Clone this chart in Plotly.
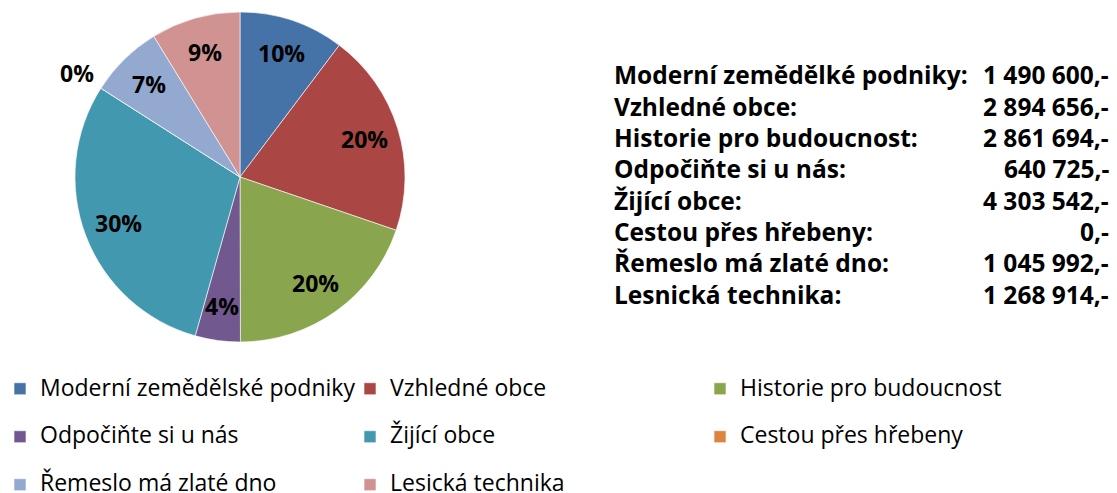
import math
import plotly.graph_objects as go

# data
legend_labels = ["Moderní zemědělské podniky", "Vzhledné obce", "Historie pro budoucnost",
                 "Odpočiňte si u nás", "Žijící obce", "Cestou přes hřebeny",
                 "Řemeslo má zlaté dno", "Lesická technika"]
table_names = ["Moderní zemědělké podniky:", "Vzhledné obce:", "Historie pro budoucnost:",
               "Odpočiňte si u nás:", "Žijící obce:", "Cestou přes hřebeny:",
               "Řemeslo má zlaté dno:", "Lesnická technika:"]
values = [1490600, 2894656, 2861694, 640725, 4303542, 0, 1045992, 1268914]
colors = ["#4572A7", "#AA4643", "#89A54E", "#71588F", "#4198AF", "#DB843D", "#93A9CF", "#D19392"]

W, H = 1117, 493
FONT = "Open Sans"

# pie geometry (px)
cx, cy, r = 240, 177, 165

# legend rows: a blank second line gives the taller row spacing (last row needs none)
leg_text = [f"<span style='font-size:23px'>{l}</span>" + ("<br> " if i < 6 else "")
            for i, l in enumerate(legend_labels)]

fig = go.Figure(go.Pie(
    labels=leg_text,
    values=values,
    sort=False,
    direction="clockwise",
    rotation=0,
    marker=dict(colors=colors, line=dict(color="rgba(255,255,255,0.6)", width=1)),
    textinfo="none",
    domain=dict(x=[(cx - r) / W, (cx + r) / W], y=[1 - (cy + r) / H, 1 - (cy - r) / H]),
    hoverinfo="skip",
))

# percentage labels, placed along each slice's middle angle
total = sum(values)
cum = 0
for v in values:
    mid = (cum + v / 2) / total
    cum += v
    ang = 2 * math.pi * mid
    rl = r * (0.79 if v > 0 else 1.17)
    fig.add_annotation(
        x=(cx + rl * math.sin(ang)) / W, y=1 - (cy - rl * math.cos(ang)) / H,
        xref="paper", yref="paper", xanchor="center", yanchor="middle", showarrow=False,
        text=f"{round(v / total * 100)}%",
        font=dict(family=FONT, size=23, color="black", weight="bold"),
    )

# value list on the right
fmt = lambda v: f"{v:,}".replace(",", " ") + ",-"
for i, (n, v) in enumerate(zip(table_names, values)):
    yy = 1 - (75 + i * 31.3) / H
    fig.add_annotation(x=612 / W, y=yy, xref="paper", yref="paper", xanchor="left", yanchor="middle",
                       showarrow=False, text=n,
                       font=dict(family=FONT, size=24.5, color="black", weight="bold"))
    fig.add_annotation(x=1111 / W, y=yy, xref="paper", yref="paper", xanchor="right", yanchor="middle",
                       showarrow=False, text=fmt(v),
                       font=dict(family=FONT, size=24.5, color="black", weight="bold"))

fig.update_layout(
    width=W, height=H,
    margin=dict(l=0, r=0, t=0, b=0, autoexpand=False),
    paper_bgcolor="white",
    showlegend=True,
    legend=dict(
        orientation="h", x=0, xanchor="left", y=1 - 371 / H, yanchor="top",
        font=dict(family=FONT, size=17.3, color="black"),
        entrywidth=305, entrywidthmode="pixels", valign="top",
        itemclick=False, itemdoubleclick=False,
    ),
)

# page body has a default 8px margin; drop it so the figure fills the window
fig.write_html("out.html", config={"displayModeBar": False},
               post_script="document.body.style.margin='0';")
